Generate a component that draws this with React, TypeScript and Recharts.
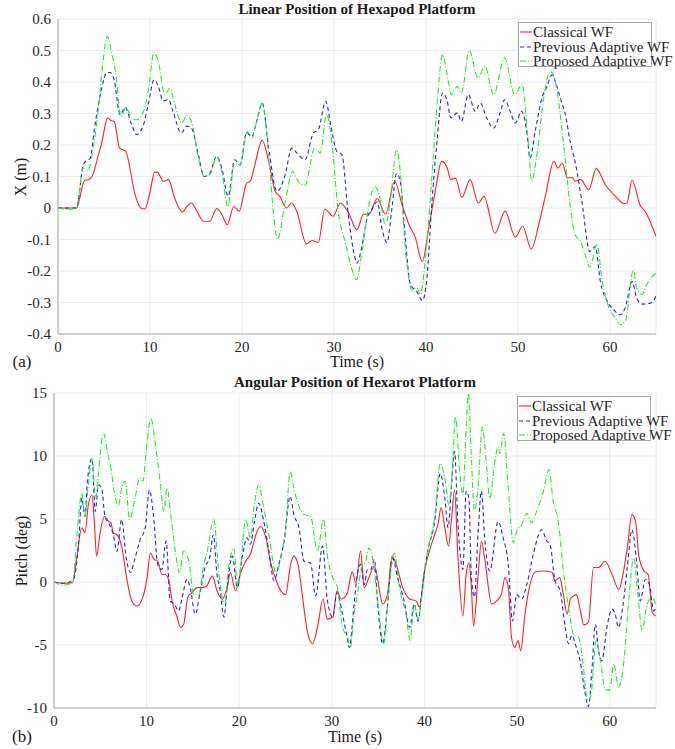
import React from "react";
import {
  CartesianGrid,
  Line,
  LineChart,
  XAxis,
  YAxis,
} from "recharts";

// [time (s), value] pairs, one list per curve
const topClassical: [number, number][] = [
  [0, 0], [1, 0], [2, 0], [2.9, 0.088], [3.3, 0.09], [3.7, 0.1], [4.4, 0.17], [4.7, 0.2],
  [5.4, 0.286], [5.8, 0.277], [6.1, 0.275], [6.7, 0.19], [7.35, 0.18], [8.4, 0.04], [9.0, 0.0],
  [9.45, -0.003], [10, 0.05], [10.5, 0.114], [10.8, 0.114], [11.45, 0.085], [12, 0.09],
  [12.7, 0.03], [13.55, -0.013], [14, 0.005], [14.5, 0.016], [15.1, -0.01], [15.8, -0.042],
  [16.5, -0.042], [17.25, -0.002], [17.8, -0.02], [18.4, -0.053], [19.1, 0.005], [19.7, -0.01],
  [20.5, 0.079], [20.9, 0.085], [21.4, 0.138], [22.2, 0.215], [22.9, 0.148], [23.6, 0.053],
  [24.1, 0.037], [24.85, 0], [25.4, 0.016], [25.95, -0.01], [27.0, -0.114], [27.6, -0.103],
  [28.3, -0.109], [29.0, -0.003], [29.9, -0.026], [30.7, 0.016], [31.55, -0.014], [32.5, -0.069],
  [33.2, -0.02], [33.8, -0.02], [34.7, 0.03], [35.6, -0.02], [36.6, 0.085], [37.4, 0.01],
  [38.3, -0.063], [38.8, -0.09], [39.6, -0.17], [40.3, -0.063], [41, 0.053], [41.7, 0.148],
  [42.3, 0.127], [42.7, 0.09], [43.2, 0.095], [43.9, 0.034], [44.8, 0.09], [45.7, 0.016],
  [46.3, 0.037], [47.5, -0.08], [48.6, -0.01], [49.7, -0.093], [50.5, -0.058], [51.45, -0.13],
  [52.25, -0.053], [53, 0.042], [53.9, 0.148], [54.35, 0.127], [54.8, 0.143], [55.4, 0.095],
  [55.9, 0.097], [56.2, 0.085], [56.8, 0.09], [57.7, 0.058], [58.5, 0.125], [59.5, 0.074],
  [60.6, 0.037], [61.5, 0.014], [61.85, 0.016], [62.4, 0.088], [63.3, 0.007], [63.8, -0.01],
  [65, -0.09],
];

const topPrevious: [number, number][] = [
  [0, 0], [1, 0], [2, 0], [2.75, 0.137], [3.0, 0.148], [3.5, 0.158], [4.0, 0.26], [4.75, 0.38],
  [5.3, 0.43], [5.65, 0.43], [6.1, 0.407], [6.75, 0.296], [7.3, 0.32], [8.0, 0.265], [8.55, 0.233],
  [9.3, 0.265], [9.8, 0.328], [10.45, 0.407], [10.9, 0.386], [11.45, 0.34], [12, 0.344],
  [12.5, 0.307], [13.4, 0.238], [14, 0.26], [14.5, 0.254], [15.25, 0.17], [15.9, 0.1],
  [16.5, 0.11], [17.25, 0.164], [17.8, 0.127], [18.5, 0.037], [19.2, 0.153], [19.8, 0.137],
  [20.5, 0.24], [21.05, 0.227], [21.6, 0.275], [22.2, 0.333], [22.9, 0.19], [23.8, 0.053],
  [24.7, 0.106], [25.4, 0.19], [25.95, 0.175], [26.85, 0.153], [27.75, 0.238], [28.3, 0.249],
  [29.1, 0.339], [29.7, 0.254], [30.3, 0.18], [30.85, 0.17], [31.55, -0.02], [32.3, -0.16],
  [32.5, -0.175], [33, -0.127], [33.6, -0.032], [34.1, -0.005], [34.7, 0.02], [35.2, -0.063],
  [35.75, -0.11], [36.3, 0], [36.8, 0.11], [37.2, 0.085], [37.75, -0.095], [38.3, -0.243],
  [39, -0.265], [39.6, -0.294], [40.1, -0.222], [40.65, 0.02], [41.2, 0.212], [41.8, 0.365],
  [42.3, 0.34], [42.7, 0.286], [43.4, 0.302], [43.85, 0.275], [44.6, 0.36], [45.35, 0.307],
  [45.9, 0.333], [46.6, 0.286], [47.35, 0.254], [48.1, 0.307], [48.55, 0.344], [49.15, 0.307],
  [49.7, 0.27], [50.4, 0.307], [51, 0.233], [51.3, 0.158], [51.9, 0.249], [52.6, 0.349],
  [53.15, 0.386], [53.7, 0.423], [54.05, 0.402], [54.6, 0.349], [55.15, 0.296], [55.7, 0.206],
  [56.2, 0.148], [56.95, 0.02], [57.8, -0.138], [58.4, -0.122], [58.95, -0.233], [59.7, -0.296],
  [60.4, -0.323], [61.1, -0.339], [61.65, -0.317], [62.4, -0.233], [62.9, -0.286], [63.5, -0.305],
  [64.4, -0.302], [65, -0.28],
];

const topProposed: [number, number][] = [
  [0, 0], [1, -0.005], [2, 0], [2.75, 0.127], [3.3, 0.12], [3.65, 0.16], [4.4, 0.317],
  [4.9, 0.466], [5.35, 0.545], [5.8, 0.497], [6.25, 0.434], [6.85, 0.29], [7.35, 0.32], [8, 0.286],
  [8.55, 0.28], [9.3, 0.307], [9.8, 0.37], [10.45, 0.494], [10.9, 0.466], [11.6, 0.36],
  [12.15, 0.38], [12.7, 0.328], [13.45, 0.27], [14, 0.293], [14.5, 0.275], [15.25, 0.158],
  [15.9, 0.1], [16.6, 0.11], [17.25, 0.164], [17.8, 0.116], [18.45, 0.005], [19.2, 0.143],
  [19.8, 0.137], [20.6, 0.243], [21.05, 0.222], [21.6, 0.275], [22.2, 0.333], [22.9, 0.169],
  [23.4, -0.01], [23.85, -0.1], [24.7, 0.021], [25.5, 0.116], [26.1, 0.085], [26.85, 0.072],
  [27.9, 0.19], [28.5, 0.175], [29.2, 0.298], [29.75, 0.212], [30.5, -0.02], [31.2, -0.106],
  [31.9, -0.19], [32.45, -0.228], [33, -0.148], [33.8, 0.01], [34.4, 0.069], [34.85, 0.048],
  [35.6, -0.053], [36.1, 0.02], [36.8, 0.185], [37.2, 0.116], [37.75, -0.127], [38.5, -0.26],
  [39, -0.254], [39.4, -0.275], [39.9, -0.17], [40.5, 0.042], [41.2, 0.328], [41.8, 0.487],
  [42.3, 0.423], [42.75, 0.36], [43.4, 0.386], [43.85, 0.365], [44.7, 0.5], [45.65, 0.413],
  [46.4, 0.45], [47.35, 0.36], [48.55, 0.476], [49.65, 0.36], [50.45, 0.394], [51.1, 0.212],
  [51.5, 0.085], [52.05, 0.169], [52.8, 0.349], [53.5, 0.434], [54.05, 0.402], [54.6, 0.296],
  [55.15, 0.148], [55.7, 0], [56.2, -0.085], [56.8, -0.106], [57.3, -0.148], [57.8, -0.188],
  [58.6, -0.114], [59.1, -0.222], [59.9, -0.317], [60.6, -0.349], [61.1, -0.37], [61.65, -0.36],
  [62.55, -0.196], [62.9, -0.254], [63.5, -0.275], [64, -0.243], [65, -0.206],
];

const botClassical: [number, number][] = [
  [0, 0], [1, -0.1], [2, -0.05], [2.45, 1.9], [3.0, 4.3], [3.35, 3.9], [3.7, 6.1], [4.1, 6.9],
  [4.35, 4.8], [4.6, 2.05], [5.0, 4.0], [5.45, 5.2], [5.9, 4.8], [6.15, 4.7], [6.4, 3.9],
  [6.8, 3.75], [7.3, 2.85], [7.9, 0.1], [8.4, -1.5], [8.95, -1.9], [9.5, -1.4], [10.05, 0.35],
  [10.4, 2.3], [10.8, 1.8], [11.2, 1.65], [11.65, 0.6], [12.0, 0.6], [12.4, 0.1], [12.75, -1.5],
  [13.3, -2.8], [13.65, -3.6], [14, -3.35], [14.45, -1.2], [14.9, -0.85], [15.45, -0.45],
  [16.0, -0.45], [16.5, -0.3], [17.1, 0.47], [17.6, -0.7], [18.15, -1.35], [18.7, -0.45],
  [19.05, 0.75], [19.6, -0.7], [20.15, 0.75], [20.7, 1.65], [21.2, 2.2], [21.8, 3.75],
  [22.3, 4.4], [22.85, 3.6], [23.4, 1.5], [23.95, 0.2], [24.5, -0.7], [25.0, -1], [25.55, 1.4],
  [25.9, 2.05], [26.35, 1.4], [26.8, -1], [27.35, -3.9], [27.9, -4.9], [28.45, -3.6],
  [29.05, -1.35], [29.5, -2.95], [30.1, -2.8], [30.55, -0.7], [31, -1.35], [31.7, -0.85],
  [31.9, -0.05], [32.2, 0.8], [32.6, -0.05], [33.1, 2.45], [33.5, -0.45], [34.0, 0.35],
  [34.6, 1.25], [35.5, -1.75], [36, -1], [36.5, 2.05], [36.9, 1.5], [37.65, -0.45], [38.4, -1.35],
  [39.1, -1.5], [39.45, -2.0], [40, 0.87], [40.55, 2.5], [41.1, 3.75], [41.45, 4.55], [41.8, 5.9],
  [42.2, 4.3], [42.6, 2.85], [42.9, 4.8], [43.25, 7.3], [43.6, 2.2], [44.15, -2.7], [44.5, 0.6],
  [44.8, 1.5], [45.05, -0.2], [45.3, -3.5], [45.8, 0.6], [46.15, 3.25], [46.5, 1.9],
  [47.25, -1.75], [47.8, -1.5], [48.3, -1], [48.7, 0.35], [49.05, -0.45], [49.4, -4.4],
  [49.75, -5.2], [50.1, -4.65], [50.4, -5.45], [50.85, -2.55], [51.4, -0.2], [51.95, 0.8],
  [52.85, 0.87], [53.75, 0.8], [54.1, 0.1], [54.6, 0.35], [55, -1], [55.4, -2.55], [55.75, -1.35],
  [56.1, -1.1], [56.4, -1], [56.8, -2.15], [57.2, -3.4], [57.7, -3.2], [58.25, 1.15], [58.8, 1.15],
  [59.5, 1.65], [60.25, 0.6], [61, -0.6], [61.5, 0.87], [61.9, 2.7], [62.4, 5.35], [62.8, 4.8],
  [63.15, 2.05], [63.7, 0.87], [64.15, 0.6], [64.6, -2.4], [65, -2.7],
];

const botPrevious: [number, number][] = [
  [0, 0], [1, -0.1], [2.1, 0.2], [2.65, 3], [3, 6.65], [3.35, 5.2], [3.6, 8], [4.1, 9.8],
  [4.45, 5.6], [4.8, 7.7], [5.15, 7.45], [5.5, 5.2], [6, 4.55], [6.4, 3.75], [6.8, 2.45],
  [7.3, 4.95], [7.8, 1.9], [8.25, 0.75], [8.75, 1.9], [9.3, 3.35], [9.85, 4.3], [10.3, 7.3],
  [10.75, 5.2], [11.2, 1.4], [11.65, 1.0], [12.1, 3.25], [12.55, -1.5], [13, -1.75],
  [13.45, -2.3], [13.85, -1.2], [14.35, 0.2], [14.7, -0.45], [15.25, -2.55], [15.8, -0.7],
  [16.35, 1.25], [16.8, 1.9], [17.2, 3.75], [17.6, 0.6], [17.95, -0.7], [18.35, -2.8],
  [18.7, -0.45], [19.25, 2.05], [19.8, -0.45], [20.3, 1.9], [20.85, 3.5], [21.2, 3], [21.65, 4.8],
  [22.1, 6.25], [22.65, 4.8], [23.2, 2.45], [23.75, 0.1], [24.3, 1.5], [24.85, 3.25], [25.5, 6.8],
  [25.9, 5.35], [26.45, 4.3], [27, 1.65], [27.7, 1.5], [28.25, -1.1], [29, 2.85], [29.5, -1.35],
  [30.1, -2.8], [30.55, -0.85], [31.15, -2.55], [31.6, -4.2], [31.9, -5.2], [32.4, -1.75],
  [32.75, 0.6], [33.1, 1.4], [33.5, -0.2], [33.85, 1.0], [34.2, 1.0], [34.6, 1.8], [34.95, -1.75],
  [35.5, -4.9], [36, -2.0], [36.55, 1.9], [37.1, 0.35], [37.8, -1.5], [38.4, -3.6], [38.9, -1.75],
  [39.3, -3.1], [39.8, -0.2], [40.35, 2.45], [41.1, 4.8], [41.7, 8.6], [42.2, 6.65], [42.55, 4.3],
  [42.9, 7.45], [43.25, 10.35], [43.6, 4.8], [44.15, 1.0], [44.5, 7.2], [44.8, 6.65], [45.05, 0.6],
  [45.4, -1.2], [45.8, 4.0], [46.15, 7.2], [46.5, 3.5], [47.05, 0.87], [47.95, 4.8], [48.5, 3.5],
  [49.05, 1.4], [49.5, -3.1], [49.95, -1], [50.5, -1.35], [51.05, -0.2], [51.75, 2.2],
  [52.65, 4.15], [53.2, 3.25], [53.55, 3], [54.1, 0.1], [54.65, -0.7], [55.2, -3.6], [55.55, -4.9],
  [55.9, -4.25], [56.4, -5.2], [56.8, -6.25], [57.35, -8.85], [57.7, -9.9], [58.1, -6.75],
  [58.45, -3.35], [58.8, -5.45], [59.15, -6.25], [59.7, -3.6], [60.25, -2.15], [60.6, -2.55],
  [60.95, -3.6], [61.45, -1.75], [61.9, 1.15], [62.4, 4.15], [62.9, 1.65], [63.3, -1.5],
  [63.85, 0.2], [64.3, -0.2], [64.75, -2.3], [65, -2.0],
];

const botProposed: [number, number][] = [
  [0, 0], [1, -0.25], [2, -0.05], [2.45, 3.5], [3, 7.05], [3.35, 5.2], [3.7, 7.7], [4.1, 9.8],
  [4.5, 6.65], [4.8, 8.75], [5.35, 11.8], [5.8, 10.2], [6.15, 9.0], [6.5, 7.2], [6.95, 6.0],
  [7.3, 7.45], [7.7, 8], [8.15, 4.95], [8.75, 6.65], [9.25, 8.25], [9.6, 8], [10.05, 11.1],
  [10.45, 13.0], [11.05, 10.35], [11.5, 7.7], [11.85, 5.6], [12.2, 7.45], [12.65, 5.1],
  [13.1, 2.45], [13.55, 0.75], [14, 2.45], [14.55, 1.65], [15.1, -1], [15.65, -1], [16.1, 1.15],
  [16.55, 2.45], [17.25, 4.95], [17.8, 0.6], [18.4, -1.75], [18.9, 1.4], [19.4, 2.7],
  [19.85, -0.45], [20.7, 4.95], [21.2, 3.5], [21.65, 6.25], [22.1, 7.7], [22.65, 5.85],
  [23.2, 3.75], [23.95, 0.75], [24.5, 1.9], [25, 4.3], [25.5, 8.75], [25.9, 7.45], [26.45, 6.0],
  [27, 5.35], [27.7, 5.2], [28.45, 2.45], [29.1, 4.95], [29.55, 1.9], [30.1, 0.35], [30.6, -0.45],
  [31.15, -3.6], [31.7, -4.4], [32.0, -5.2], [32.4, -2.55], [32.75, -1], [33.2, 1.15],
  [33.65, 1.65], [34.0, 2.7], [34.4, 1.9], [34.95, -1.5], [35.6, -4.9], [36.1, -1], [36.75, 2.3],
  [37.3, -0.45], [38, -2.55], [38.45, -4.65], [38.9, -1.75], [39.3, -2.95], [39.8, -0.7],
  [40.35, 2.45], [41.1, 5.1], [41.7, 9.4], [42.2, 8.25], [42.65, 6.1], [43, 8.75], [43.35, 13.1],
  [43.8, 8.75], [44.15, 6.9], [44.5, 12.2], [44.75, 14.95], [45.05, 10.1], [45.4, 5.6],
  [45.8, 7.7], [46.25, 12.3], [46.7, 9.3], [47.05, 6.65], [47.6, 9.55], [47.95, 10.75],
  [48.15, 10.2], [48.55, 11.8], [49.05, 7.45], [49.6, 3.1], [49.95, 4.0], [50.5, 4.55],
  [51.05, 5.45], [51.55, 4.7], [52.1, 5.6], [52.85, 7.2], [53.45, 8.9], [53.9, 6.4], [54.45, 4.8],
  [55, 0.87], [55.55, -2.0], [56.1, -4.15], [56.65, -4.4], [57.2, -7.0], [57.6, -9.4],
  [57.95, -9.1], [58.55, -4.65], [59, -6.25], [59.5, -8.5], [60, -8.6], [60.45, -6.5],
  [60.95, -8.35], [61.5, -6.5], [62.05, -1.5], [62.6, 1.9], [63.05, -1], [63.5, -3.85],
  [64.05, -1.75], [64.6, -1.2], [65, -1.9],
];

const timeTicks = [0, 10, 20, 30, 40, 50, 60];
const xTicks = [-0.4, -0.3, -0.2, -0.1, 0, 0.1, 0.2, 0.3, 0.4, 0.5, 0.6];
const pitchTicks = [-10, -5, 0, 5, 10, 15];

const seriesNames = ["Classical WF", "Previous Adaptive WF", "Proposed Adaptive WF"];
const seriesColors = ["#ff2020", "#2020ff", "#20ee20"];
const seriesDash = [undefined, "4 3", "6 2 1 2"];

const FONT = "'Liberation Serif', 'Times New Roman', serif";
const GRID = "#ececec";
const FRAME = "#a8a8a8";
const INK = "#262626";

const toRows = (pts: [number, number][]) => pts.map(([t, v]) => ({ t, v }));

const fmtX = (v: number) => (Math.abs(v) < 1e-9 ? "0" : v.toFixed(1));
const fmtPitch = (v: number) => String(v);

// recharts drops fontFamily from plain tick objects here, so draw the text ourselves
function makeTick(axis: "x" | "y", fmt: (v: number) => string) {
  return (props: any) => {
    const { x, y, payload } = props;
    return (
      <text
        x={axis === "x" ? x : x - 5}
        y={axis === "x" ? y + 16 : y + 5}
        textAnchor={axis === "x" ? "middle" : "end"}
        fontFamily={FONT}
        fontSize={15}
        fill={INK}
      >
        {fmt(payload.value)}
      </text>
    );
  };
}

type ChartProps = {
  top: number;
  width: number;
  height: number;
  yAxisWidth: number;
  domain: [number, number];
  ticks: number[];
  fmt: (v: number) => string;
  series: [number, number][][];
};

function Chart({ top, width, height, yAxisWidth, domain, ticks, fmt, series }: ChartProps) {
  return (
    <div style={{ position: "absolute", top, left: 0 }}>
      <LineChart
        width={width}
        height={height}
        margin={{ top: 19, right: 19, bottom: 11, left: 8 }}
      >
        <CartesianGrid stroke={GRID} strokeWidth={1} />
        <XAxis
          dataKey="t"
          type="number"
          domain={[0, 65]}
          ticks={timeTicks}
          allowDataOverflow
          tickLine={false}
          tickSize={0}
          height={25}
          axisLine={{ stroke: FRAME }}
          tick={makeTick("x", String)}
        />
        <XAxis
          xAxisId="top"
          orientation="top"
          type="number"
          domain={[0, 65]}
          ticks={timeTicks}
          tick={false}
          tickLine={false}
          height={0}
          axisLine={{ stroke: FRAME }}
        />
        <YAxis
          dataKey="v"
          type="number"
          domain={domain}
          ticks={ticks}
          allowDataOverflow
          tickLine={false}
          tickSize={0}
          width={yAxisWidth}
          axisLine={{ stroke: FRAME }}
          tick={makeTick("y", fmt)}
        />
        <YAxis
          yAxisId="right"
          orientation="right"
          type="number"
          domain={domain}
          ticks={ticks}
          tick={false}
          tickLine={false}
          width={0}
          axisLine={{ stroke: FRAME }}
        />
        {series.map((pts, i) => (
          <Line
            key={seriesNames[i]}
            data={toRows(pts)}
            dataKey="v"
            type="monotone"
            stroke={seriesColors[i]}
            strokeWidth={1.1}
            strokeDasharray={seriesDash[i]}
            dot={false}
            activeDot={false}
            isAnimationActive={false}
          />
        ))}
      </LineChart>
    </div>
  );
}

function LegendBox({ top, left }: { top: number; left: number }) {
  return (
    <div
      style={{
        position: "absolute",
        top,
        left,
        width: 134,
        height: 45,
        background: "#fff",
        border: `1px solid ${FRAME}`,
        boxSizing: "border-box",
        fontFamily: FONT,
        fontSize: 15,
        color: INK,
      }}
    >
      {seriesNames.map((name, i) => (
        <div
          key={name}
          style={{
            position: "absolute",
            top: 2 + i * 14.5,
            left: 1,
            height: 14,
            display: "flex",
            alignItems: "center",
            whiteSpace: "nowrap",
            lineHeight: "14px",
          }}
        >
          <svg width={12} height={10} style={{ marginRight: 1 }}>
            <line
              x1={0}
              y1={5}
              x2={12}
              y2={5}
              stroke={seriesColors[i]}
              strokeWidth={1.1}
              strokeDasharray={seriesDash[i]}
            />
          </svg>
          {name}
        </div>
      ))}
    </div>
  );
}

function Label({
  x,
  y,
  text,
  bold,
  rotate,
  size = 16,
}: {
  x: number;
  y: number;
  text: string;
  bold?: boolean;
  rotate?: boolean;
  size?: number;
}) {
  return (
    <div
      style={{
        position: "absolute",
        left: x,
        top: y,
        transform: `translate(-50%, -50%)${rotate ? " rotate(-90deg)" : ""}`,
        fontFamily: FONT,
        fontSize: size,
        fontWeight: bold ? "bold" : "normal",
        color: "#1a1a1a",
        whiteSpace: "nowrap",
      }}
    >
      {text}
    </div>
  );
}

export default function App() {
  return (
    <div
      style={{
        position: "absolute",
        top: 0,
        left: 0,
        width: 675,
        height: 749,
        background: "#fff",
        overflow: "hidden",
      }}
    >
      <Chart
        top={0}
        width={675}
        height={370}
        yAxisWidth={50}
        domain={[-0.4, 0.6]}
        ticks={xTicks}
        fmt={fmtX}
        series={[topClassical, topPrevious, topProposed]}
      />
      <Chart
        top={374}
        width={675}
        height={370}
        yAxisWidth={46}
        domain={[-10, 15]}
        ticks={pitchTicks}
        fmt={fmtPitch}
        series={[botClassical, botPrevious, botProposed]}
      />
      <LegendBox top={22} left={518} />
      <LegendBox top={396} left={517} />

      <Label x={357} y={9} text="Linear Position of Hexapod Platform" bold size={15} />
      <Label x={21} y={177} text="X (m)" rotate />
      <Label x={357} y={362} text="Time (s)" />
      <Label x={22} y={362} text="(a)" size={17} />

      <Label x={355} y={382} text="Angular Position of Hexarot Platform" bold size={15} />
      <Label x={22} y={551} text="Pitch (deg)" rotate />
      <Label x={355} y={737} text="Time (s)" />
      <Label x={22} y={737} text="(b)" size={17} />
    </div>
  );
}
